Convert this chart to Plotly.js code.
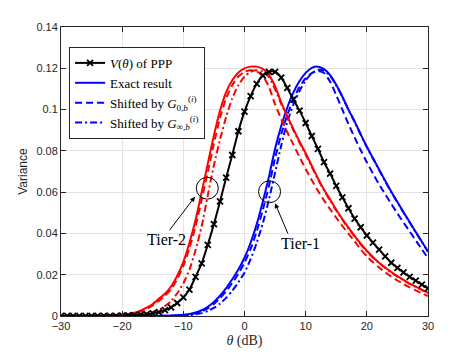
<!DOCTYPE html>
<html>
<head>
<meta charset="utf-8">
<script src="https://cdn.plot.ly/plotly-3.0.1.min.js"></script>
<style>
  body { margin: 0; background: white; }
  #graph { width: 473px; height: 355px; }
</style>
</head>
<body>
<div id="graph"></div>
<script>
// eixo x (dB)
const theta = [-30,-29,-28,-27,-26,-25,-24,-23,-22,-21,-20,-19,-18,-17,-16,-15,-14,-13,-12,-11,
  -10,-9,-8,-7,-6,-5,-4,-3,-2,-1,0,1,2,3,4,5,6,7,8,9,10,11,12,13,14,15,16,17,18,19,20,
  21,22,23,24,25,26,27,28,29,30];

// V(theta) do PPP
const pppVar = [0,0,0,0,0,0,0,0.0001,0.0001,0.0001,0.0002,0.0003,0.0004,0.0006,0.0009,0.0013,0.0019,0.0028,0.0042,0.0063,
  0.009,0.0128,0.019,0.0255,0.0345,0.0445,0.0555,0.067,0.078,0.0895,0.099,0.1065,0.1125,0.1165,0.1183,0.1183,0.1155,0.1105,0.1048,0.0995,0.0935,
  0.0872,0.081,0.0745,0.069,0.063,0.0575,0.0522,0.0472,0.043,0.039,0.0355,0.0322,0.0289,0.0258,0.0233,0.0211,0.019,0.0171,0.0152,0.0134];

// Tier-1 (azul)
const tier1Exact = [0,0,0,0,0,0,0,0,0,0,0,0,0,0,0,0,0.0001,0.0001,0.0002,0.0004,
  0.0006,0.001,0.0017,0.0028,0.0045,0.0068,0.0098,0.0135,0.0178,0.0225,0.0282,0.0355,0.0445,0.0555,0.0675,0.081,0.092,0.101,0.1083,0.1138,0.1178,
  0.1202,0.1208,0.1196,0.1167,0.112,0.1062,0.1,0.0943,0.088,0.082,0.0765,0.071,0.0655,0.0602,0.0552,0.0503,0.0455,0.0407,0.036,0.0312];
const tier1G0 = [0,0,0,0,0,0,0,0,0,0,0,0,0,0,0,0,0,0.0001,0.0001,0.0002,
  0.0004,0.0007,0.0013,0.0022,0.0037,0.0058,0.0086,0.012,0.016,0.0205,0.0258,0.0325,0.041,0.0515,0.063,0.0765,0.088,0.0975,0.105,0.111,0.1152,
  0.1177,0.1187,0.1177,0.1135,0.107,0.1,0.093,0.0865,0.0803,0.0745,0.069,0.0638,0.059,0.0543,0.0497,0.0453,0.041,0.0366,0.0323,0.028];
const tier1Ginf = [0,0,0,0,0,0,0,0,0,0,0,0,0,0,0,0,0,0,0,0.0001,
  0.0002,0.0004,0.0008,0.0014,0.0024,0.0039,0.006,0.0088,0.0122,0.0163,0.021,0.0275,0.0355,0.045,0.0565,0.0695,0.0825,0.094,0.1025,0.109,0.1142,
  0.1175,0.1192,0.1188,0.1163,0.1117,0.1062,0.0998,0.0941,0.0878,0.0818,0.0763,0.0708,0.0653,0.06,0.055,0.0501,0.0453,0.0405,0.0358,0.031];

// Tier-2 (vermelho)
const tier2Exact = [0,0,0,0,0,0.0001,0.0001,0.0002,0.0003,0.0004,0.0006,0.001,0.0016,0.0026,0.004,0.0058,0.0083,0.0108,0.0143,0.0195,
  0.0262,0.0355,0.0465,0.06,0.0738,0.0875,0.0995,0.1085,0.1142,0.118,0.12,0.1208,0.1208,0.1197,0.1168,0.1113,0.1035,0.0968,0.0905,0.0845,0.0788,
  0.0728,0.0668,0.0612,0.0565,0.0515,0.047,0.0428,0.0388,0.035,0.0316,0.0286,0.0258,0.0235,0.0213,0.0193,0.0175,0.0157,0.0142,0.0127,0.0113];
const tier2G0 = [0,0,0,0,0,0.0001,0.0001,0.0002,0.0002,0.0003,0.0005,0.0008,0.0014,0.0022,0.0035,0.0051,0.0073,0.0098,0.013,0.0178,
  0.0243,0.0328,0.0435,0.0563,0.0698,0.0835,0.096,0.1055,0.1118,0.116,0.1183,0.119,0.1185,0.1162,0.111,0.1025,0.0955,0.089,0.083,0.077,0.0712,
  0.0658,0.0607,0.056,0.0517,0.0476,0.0436,0.0398,0.0362,0.0322,0.0289,0.026,0.0235,0.0212,0.0191,0.0172,0.0155,0.0139,0.0124,0.011,0.0097];
const tier2Ginf = [0,0,0,0,0,0,0,0.0001,0.0001,0.0001,0.0001,0.0002,0.0004,0.0007,0.0012,0.002,0.003,0.0048,0.0072,0.011,
  0.0158,0.0225,0.032,0.0435,0.0585,0.073,0.0855,0.0965,0.1055,0.1118,0.116,0.1183,0.119,0.1183,0.1158,0.1098,0.1028,0.0962,0.09,0.084,0.0782,
  0.0723,0.0663,0.0608,0.056,0.0511,0.0466,0.0424,0.0385,0.0347,0.0313,0.0283,0.0256,0.0233,0.0211,0.0191,0.0173,0.0156,0.0141,0.0126,0.0112];

const xTicks = [-30, -20, -10, 0, 10, 20, 30];
const yTicks = [0, 0.02, 0.04, 0.06, 0.08, 0.1, 0.12, 0.14];

const dashed = '7px,4px';
const dashdot = '7px,3px,2px,3px';
const serif = 'Liberation Serif';

function linha(y, cor, dash, nome, rank) {
    return {
        x: theta, y: y, type: 'scatter', mode: 'lines',
        name: nome, showlegend: rank > 0, legendrank: rank,
        line: { color: cor, width: 2, dash: dash, shape: 'spline', smoothing: 0.6 }
    };
}

// PPP desenhado por cima, mas primeiro na legenda
const traces = [
    linha(tier1Exact, '#0000ff', 'solid', 'Exact result', 2),
    linha(tier1G0, '#0000ff', dashed, 'Shifted by <i>G</i><sub>0,<i>b</i></sub><sup>(<i>i</i>)</sup>', 3),
    linha(tier1Ginf, '#0000ff', dashdot, 'Shifted by <i>G</i><sub>∞,<i>b</i></sub><sup>(<i>i</i>)</sup>', 4),
    linha(tier2Exact, '#ff0000', 'solid', 'Tier-2 exact', 0),
    linha(tier2G0, '#ff0000', dashed, 'Tier-2 G0', 0),
    linha(tier2Ginf, '#ff0000', dashdot, 'Tier-2 Ginf', 0),
    {
        x: theta, y: pppVar, type: 'scatter', mode: 'lines+markers',
        name: '<i>V</i>(<i>θ</i>) of PPP', legendrank: 1,
        line: { color: 'black', width: 2, shape: 'spline', smoothing: 0.6 },
        marker: { symbol: 'x-thin', size: 6, color: 'black', line: { color: 'black', width: 1.8 } }
    }
];

const eixo = {
    ticks: 'inside', ticklen: 5, tickcolor: '#262626',
    showline: true, linecolor: '#262626', linewidth: 1, mirror: 'ticks',
    showgrid: true, gridcolor: '#e3e3e3', gridwidth: 1, zeroline: false,
    tickfont: { family: 'Liberation Sans', size: 11, color: '#262626' }
};

const layout = {
    width: 473, height: 355,
    margin: { l: 61, r: 45, t: 27, b: 39 },
    paper_bgcolor: 'white', plot_bgcolor: 'white',
    xaxis: Object.assign({}, eixo, {
        range: [-30, 30], tickvals: xTicks,
        title: { text: '<i>θ</i> (dB)', font: { family: serif, size: 14, color: '#262626' }, standoff: 3 }
    }),
    yaxis: Object.assign({}, eixo, {
        range: [0, 0.14], tickvals: yTicks,
        title: { text: 'Variance', font: { family: 'Liberation Sans', size: 12, color: '#262626' }, standoff: 6 }
    }),
    legend: {
        x: 0.022, y: 0.931, xanchor: 'left', yanchor: 'top',
        bgcolor: 'white', bordercolor: '#262626', borderwidth: 1,
        font: { family: serif, size: 13, color: 'black' },
        tracegroupgap: 0
    },
    shapes: [
        { type: 'circle', xref: 'x', yref: 'y', x0: -7.88, x1: -4.28, y0: 0.0566, y1: 0.0672, line: { color: 'black', width: 1 } },
        { type: 'circle', xref: 'x', yref: 'y', x0: 2.3, x1: 5.9, y0: 0.0549, y1: 0.0655, line: { color: 'black', width: 1 } }
    ],
    annotations: [
        { x: -12.8, y: 0.0373, xref: 'x', yref: 'y', text: 'Tier-2', showarrow: false, font: { family: serif, size: 16, color: 'black' } },
        { x: -8.1, y: 0.0578, ax: -12.45, ay: 0.0408, xref: 'x', yref: 'y', axref: 'x', ayref: 'y', text: '',
          showarrow: true, arrowhead: 2, arrowsize: 1, arrowwidth: 1, arrowcolor: 'black', standoff: 0, startstandoff: 0 },
        { x: 9.2, y: 0.0352, xref: 'x', yref: 'y', text: 'Tier-1', showarrow: false, font: { family: serif, size: 16, color: 'black' } },
        { x: 5.0, y: 0.0546, ax: 7.2, ay: 0.0392, xref: 'x', yref: 'y', axref: 'x', ayref: 'y', text: '',
          showarrow: true, arrowhead: 2, arrowsize: 1, arrowwidth: 1, arrowcolor: 'black', standoff: 0, startstandoff: 0 }
    ]
};

Plotly.newPlot('graph', traces, layout, { displayModeBar: false, staticPlot: true });
</script>
</body>
</html>
